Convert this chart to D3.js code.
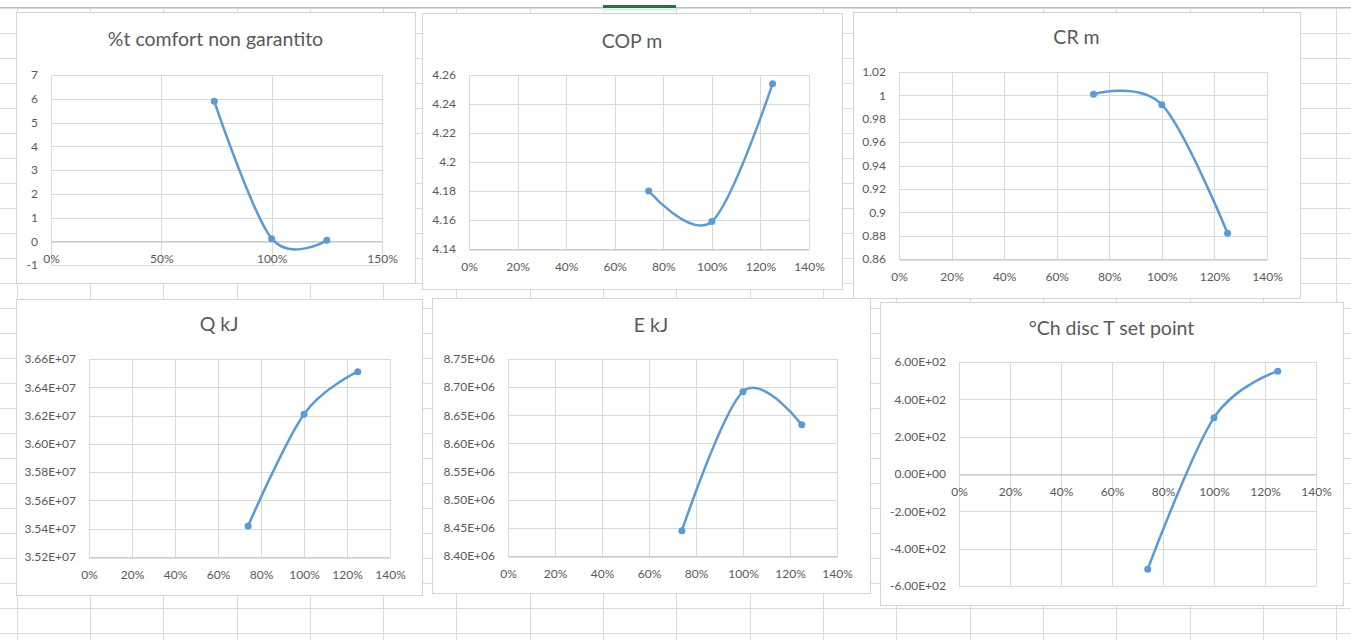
<!DOCTYPE html>
<html>
<head>
<meta charset="utf-8">
<script src="https://cdn.jsdelivr.net/npm/d3@7"></script>
<style>
  html, body { margin: 0; padding: 0; background: #ffffff; }
  svg { display: block; font-family: Lato, "Open Sans", "DejaVu Sans", sans-serif; }
</style>
</head>
<body>
<svg id="sheet" width="1351" height="640"></svg>
<script>
// ---- data -------------------------------------------------------------
// load fraction shared by all six charts
const loads = [0.74, 1.00, 1.25];

const comfortPct = [5.89, 0.11, 0.04];
const copM       = [4.180, 4.159, 4.254];
const crM        = [1.001, 0.992, 0.882];
const qKJ        = [3.542e7, 3.621e7, 3.651e7];
const eKJ        = [8.445e6, 8.692e6, 8.633e6];
const chDisc     = [-510, 302, 550];

const titles = ["%t comfort non garantito", "COP m", "CR m", "Q kJ", "E kJ", "°Ch disc T set point"];

// x axis ticks
const xTicksWide   = [0, 0.5, 1.0, 1.5];
const xLabelsWide  = ["0%", "50%", "100%", "150%"];
const xTicksStd    = [0, 0.2, 0.4, 0.6, 0.8, 1.0, 1.2, 1.4];
const xLabelsStd   = ["0%", "20%", "40%", "60%", "80%", "100%", "120%", "140%"];

// y axis ticks, bottom to top
const comfortTicks  = [-1, 0, 1, 2, 3, 4, 5, 6, 7];
const comfortLabels = ["-1", "0", "1", "2", "3", "4", "5", "6", "7"];
const copTicks      = [4.14, 4.16, 4.18, 4.20, 4.22, 4.24, 4.26];
const copLabels     = ["4.14", "4.16", "4.18", "4.2", "4.22", "4.24", "4.26"];
const crTicks       = [0.86, 0.88, 0.90, 0.92, 0.94, 0.96, 0.98, 1.00, 1.02];
const crLabels      = ["0.86", "0.88", "0.9", "0.92", "0.94", "0.96", "0.98", "1", "1.02"];
const qTicks        = [3.52e7, 3.54e7, 3.56e7, 3.58e7, 3.60e7, 3.62e7, 3.64e7, 3.66e7];
const qLabels       = ["3.52E+07", "3.54E+07", "3.56E+07", "3.58E+07", "3.60E+07", "3.62E+07", "3.64E+07", "3.66E+07"];
const eTicks        = [8.40e6, 8.45e6, 8.50e6, 8.55e6, 8.60e6, 8.65e6, 8.70e6, 8.75e6];
const eLabels       = ["8.40E+06", "8.45E+06", "8.50E+06", "8.55E+06", "8.60E+06", "8.65E+06", "8.70E+06", "8.75E+06"];
const chTicks       = [-600, -400, -200, 0, 200, 400, 600];
const chLabels      = ["-6.00E+02", "-4.00E+02", "-2.00E+02", "0.00E+00", "2.00E+02", "4.00E+02", "6.00E+02"];

// ---- layout -----------------------------------------------------------
const charts = [
  { title: titles[0], values: comfortPct, yTicks: comfortTicks, yLabels: comfortLabels, xTicks: xTicksWide, xLabels: xLabelsWide,
    box: [16, 12, 415, 283], plot: [51, 75, 382, 265], titleY: 46 },
  { title: titles[1], values: copM, yTicks: copTicks, yLabels: copLabels, xTicks: xTicksStd, xLabels: xLabelsStd,
    box: [422, 13, 842, 289], plot: [469, 75, 809, 249], titleY: 48 },
  { title: titles[2], values: crM, yTicks: crTicks, yLabels: crLabels, xTicks: xTicksStd, xLabels: xLabelsStd,
    box: [853, 12, 1300, 298], plot: [899, 72, 1267, 259], titleY: 44 },
  { title: titles[3], values: qKJ, yTicks: qTicks, yLabels: qLabels, xTicks: xTicksStd, xLabels: xLabelsStd,
    box: [16, 299, 422, 595], plot: [89, 359, 390, 557], titleY: 331 },
  { title: titles[4], values: eKJ, yTicks: eTicks, yLabels: eLabels, xTicks: xTicksStd, xLabels: xLabelsStd,
    box: [432, 298, 870, 593], plot: [508, 359, 837, 556], titleY: 332 },
  { title: titles[5], values: chDisc, yTicks: chTicks, yLabels: chLabels, xTicks: xTicksStd, xLabels: xLabelsStd,
    box: [880, 302, 1343, 605], plot: [959, 362, 1316, 586], titleY: 335 }
];

const svg = d3.select("#sheet");
const W = 1351, H = 640;

// ---- spreadsheet cells behind the charts ------------------------------
const sheet = svg.append("g").attr("class", "cells");
const rowLines = d3.range(8, H, 25);
const colLines = d3.range(0, 19).map(k => 16.7 + 73.3 * k);

sheet.selectAll("line.row").data(rowLines).join("line")
  .attr("class", "row")
  .attr("x1", 0).attr("x2", W)
  .attr("y1", d => Math.round(d) + 0.5).attr("y2", d => Math.round(d) + 0.5)
  .attr("stroke", "#dadada").attr("stroke-width", 1);

sheet.selectAll("line.col").data(colLines).join("line")
  .attr("class", "col")
  .attr("x1", d => Math.round(d) + 0.5).attr("x2", d => Math.round(d) + 0.5)
  .attr("y1", 8).attr("y2", H)
  .attr("stroke", "#dadada").attr("stroke-width", 1);

// header edge and the selected column marker
sheet.append("line").attr("x1", 0).attr("x2", W).attr("y1", 7.5).attr("y2", 7.5)
  .attr("stroke", "#bdbdbd").attr("stroke-width", 1);
sheet.append("rect").attr("x", 603).attr("y", 8).attr("width", 73).attr("height", 3)
  .attr("fill", "#e3f1e8");
sheet.append("rect").attr("x", 603).attr("y", 5).attr("width", 73).attr("height", 3)
  .attr("fill", "#217346");

// ---- charts -----------------------------------------------------------
const textColor = "#595959";
const gridColor = "#d9d9d9";
const lineColor = "#5b9bd5";

charts.forEach(c => {
  const g = svg.append("g").attr("class", "chart");
  const [bx0, by0, bx1, by1] = c.box;
  const [px0, py0, px1, py1] = c.plot;

  g.append("rect")
    .attr("x", bx0 + 0.5).attr("y", by0 + 0.5)
    .attr("width", bx1 - bx0).attr("height", by1 - by0)
    .attr("fill", "#ffffff").attr("stroke", "#d4d4d4").attr("stroke-width", 1);

  g.append("text")
    .attr("x", (bx0 + bx1) / 2).attr("y", c.titleY)
    .attr("text-anchor", "middle")
    .attr("font-size", "19.5px")
    .attr("fill", textColor)
    .text(c.title);

  const x = d3.scaleLinear()
    .domain([c.xTicks[0], c.xTicks[c.xTicks.length - 1]])
    .range([px0, px1]);
  const y = d3.scaleLinear()
    .domain([c.yTicks[0], c.yTicks[c.yTicks.length - 1]])
    .range([py1, py0]);

  // gridlines
  g.append("g")
    .selectAll("line").data(c.yTicks).join("line")
    .attr("x1", px0).attr("x2", px1)
    .attr("y1", d => Math.round(y(d)) + 0.5).attr("y2", d => Math.round(y(d)) + 0.5)
    .attr("stroke", gridColor).attr("stroke-width", 1);
  g.append("g")
    .selectAll("line").data(c.xTicks).join("line")
    .attr("x1", d => Math.round(x(d)) + 0.5).attr("x2", d => Math.round(x(d)) + 0.5)
    .attr("y1", py0).attr("y2", py1)
    .attr("stroke", gridColor).attr("stroke-width", 1);

  // horizontal axis crosses the value axis at zero when zero is in range
  const [ymin, ymax] = y.domain();
  const cross = Math.max(ymin, Math.min(ymax, 0));
  const axisY = Math.round(y(cross)) + 0.5;

  const xAxis = d3.axisBottom(x)
    .tickValues(c.xTicks)
    .tickFormat((d, i) => c.xLabels[i])
    .tickSize(0)
    .tickPadding(13);
  const xg = g.append("g").attr("transform", `translate(0,${axisY})`).call(xAxis);
  xg.select(".domain").attr("stroke", "#bfbfbf").attr("stroke-width", 1);
  xg.selectAll("text").attr("fill", textColor).attr("font-size", "12px")
    .attr("font-family", "Lato, 'Open Sans', sans-serif");

  const yAxis = d3.axisLeft(y)
    .tickValues(c.yTicks)
    .tickFormat((d, i) => c.yLabels[i])
    .tickSize(0)
    .tickPadding(13);
  const yg = g.append("g").attr("transform", `translate(${px0},0)`).call(yAxis);
  yg.select(".domain").remove();
  yg.selectAll("text").attr("fill", textColor).attr("font-size", "12px")
    .attr("font-family", "Lato, 'Open Sans', sans-serif");

  // smoothed series line with markers
  const pts = loads.map((l, i) => [l, c.values[i]]);
  const line = d3.line()
    .x(d => x(d[0]))
    .y(d => y(d[1]))
    .curve(d3.curveCardinal.tension(0));

  g.append("path")
    .datum(pts)
    .attr("d", line)
    .attr("fill", "none")
    .attr("stroke", lineColor)
    .attr("stroke-width", 2.5)
    .attr("stroke-linecap", "round");

  g.selectAll("circle.pt").data(pts).join("circle")
    .attr("class", "pt")
    .attr("cx", d => x(d[0]))
    .attr("cy", d => y(d[1]))
    .attr("r", 3.5)
    .attr("fill", lineColor);
});
</script>
</body>
</html>
